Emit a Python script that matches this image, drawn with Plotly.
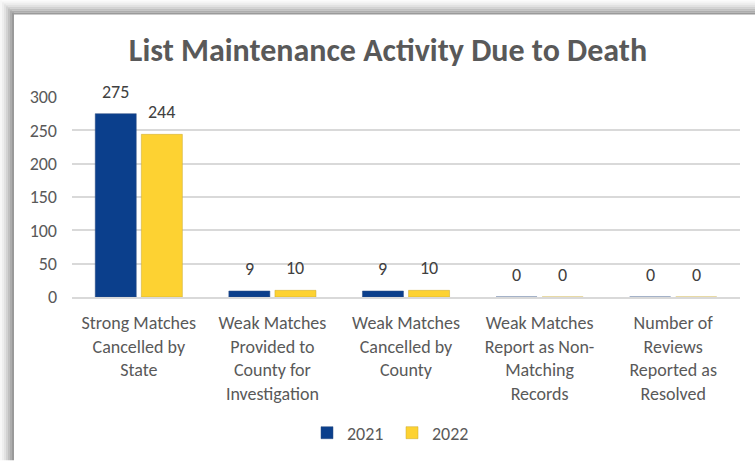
import plotly.graph_objects as go

categories = [
    "Strong Matches<br>Cancelled by<br>State",
    "Weak Matches<br>Provided to<br>County for<br>Investigation",
    "Weak Matches<br>Cancelled by<br>County",
    "Weak Matches<br>Report as Non-<br>Matching<br>Records",
    "Number of<br>Reviews<br>Reported as<br>Resolved",
]
values_2021 = [275, 9, 9, 0, 0]
values_2022 = [244, 10, 10, 0, 0]
y_ticks = [0, 50, 100, 150, 200, 250, 300]

W, H = 755, 462
L, R, T, B = 72, 15, 97, 164
pw, ph = W - L - R, H - T - B
BARGAP = 0.31

def px(x):
    return (x - L) / pw

def py(y):
    return (H - B - y) / ph

FONT = "Carlito, Calibri, Lato, sans-serif"
LABEL_FONT = dict(family=FONT, size=18, color="#404040")

fig = go.Figure()
fig.add_trace(go.Bar(
    x=categories, y=values_2021, name="2021",
    marker=dict(color="#0b3f8c", line=dict(color="#2f4f80", width=0.5)),
))
fig.add_trace(go.Bar(
    x=categories, y=values_2022, name="2022",
    marker=dict(color="#fdd232", line=dict(color="#c9a830", width=0.5)),
))

# data labels above each bar (positioned through the axes)
offset = (1 - BARGAP) / 4
annotations = []
for i, (a, b) in enumerate(zip(values_2021, values_2022)):
    for dx, v in ((-offset, a), (offset, b)):
        annotations.append(dict(x=i + dx, y=v, xref="x", yref="y", text=str(v),
                                showarrow=False, yanchor="bottom", yshift=9,
                                font=LABEL_FONT))

shapes = []
# shadow frame (left and top strips)
greys = ["#f7f7f7", "#eeeeee", "#e2e2e2", "#d2d2d2", "#c0c0c0", "#adadad", "#9a9a9a"]
for i, c in enumerate(greys):
    shapes.append(dict(type="rect", xref="paper", yref="paper", layer="below",
                       x0=px(2 * i), x1=px(2 * i + 2), y0=py(H), y1=py(2 * i),
                       fillcolor=c, line=dict(width=0)))
    shapes.append(dict(type="rect", xref="paper", yref="paper", layer="below",
                       x0=px(2 * i), x1=px(W), y0=py(2 * i + 2), y1=py(2 * i),
                       fillcolor=c, line=dict(width=0)))

fig.update_layout(
    width=W, height=H,
    margin=dict(l=L, r=R, t=T, b=B),
    paper_bgcolor="white", plot_bgcolor="white",
    font=dict(family=FONT, size=16, color="#595959"),
    title=dict(text="<b>List Maintenance Activity Due to Death</b>",
               x=388 / W, xanchor="center", y=1 - 50 / H, yanchor="middle",
               font=dict(family=FONT, size=32, color="#595959")),
    barmode="group", bargap=BARGAP, bargroupgap=0.11,
    showlegend=True,
    legend=dict(orientation="h", x=px(392), xanchor="center", y=py(433), yanchor="middle",
                font=dict(family=FONT, size=18, color="#595959"),
                itemwidth=30, entrywidth=40, entrywidthmode="pixels",
                traceorder="normal"),
    shapes=shapes,
    annotations=annotations,
)
fig.update_yaxes(range=[0, 300], tickvals=y_ticks, showgrid=True,
                 gridcolor="#d9d9d9", gridwidth=1.5, zeroline=False,
                 showline=False, ticks="", ticklabelstandoff=14,
                 tickfont=dict(family=FONT, size=18, color="#595959"))
fig.update_xaxes(showline=True, linecolor="#d9d9d9", linewidth=1.5, ticks="",
                 tickangle=0, ticklabelstandoff=9,
                 tickfont=dict(family=FONT, size=18, color="#595959"))

fig.write_html("out.html", config={"displayModeBar": False},
               post_script="document.body.style.margin='0';")
